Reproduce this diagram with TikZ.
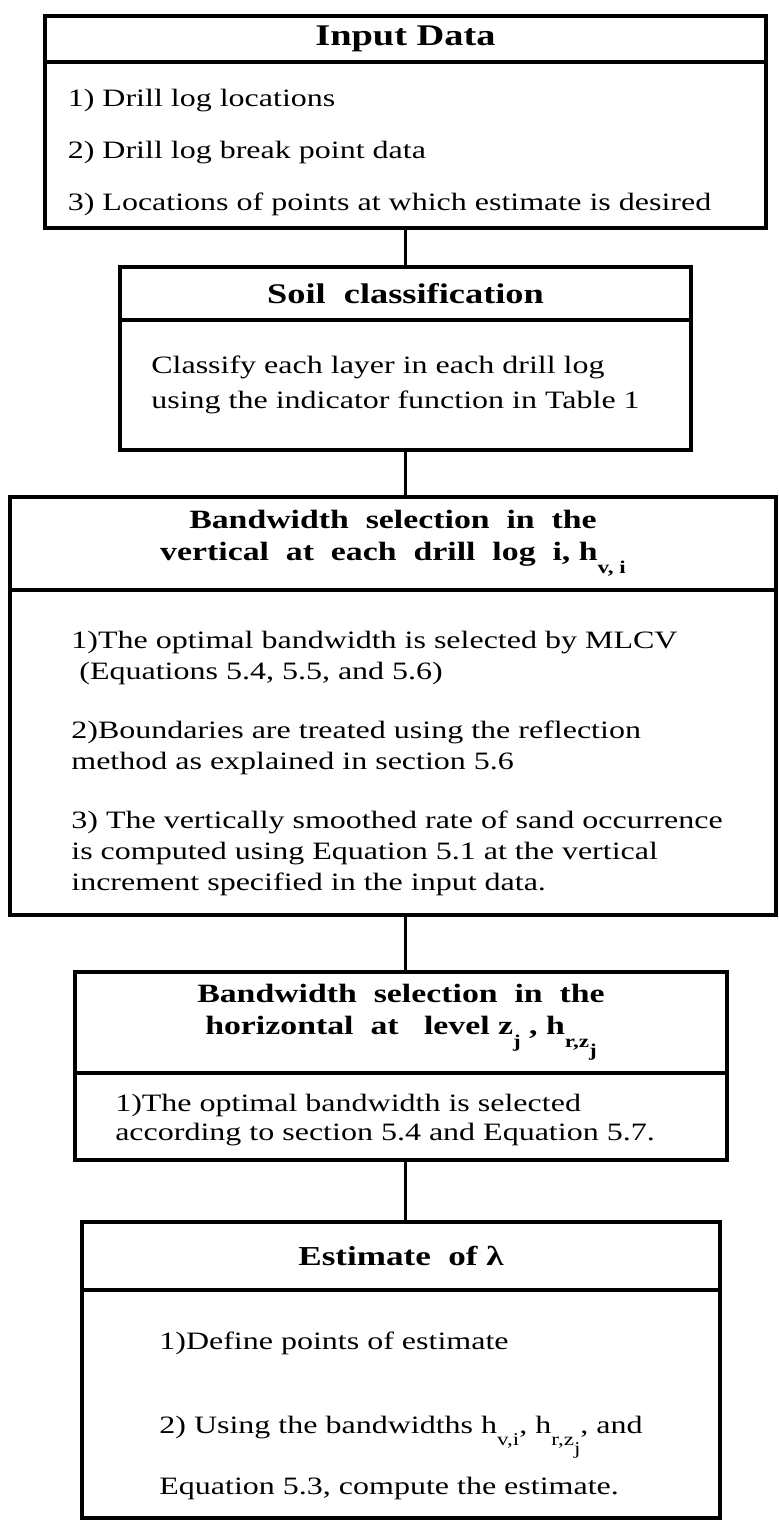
\documentclass[tikz,border=0pt]{standalone}
\usepackage{fontspec}
\setmainfont{Liberation Serif}[FakeStretch=1.28]
\usetikzlibrary{positioning}

\newcommand{\lowsub}[1]{\raisebox{-1.1ex}{\small #1}}
\newcommand{\topgap}[1]{\rule{0pt}{#1}}

\begin{document}
\begin{tikzpicture}[
    boxhead/.style={rectangle, draw, line width=1.6pt, inner sep=0pt, outer sep=0pt, align=center, font=\bfseries\fontsize{13.2}{16}\selectfont},
    boxbody/.style={rectangle, draw, line width=1.6pt, inner sep=0pt, outer sep=0pt, font=\fontsize{12.5}{14.5}\selectfont},
    link/.style={line width=1.5pt},
    node distance=0pt
]

    \useasboundingbox (0,0) rectangle (389pt,-760pt);

    % Input data
    \node[boxhead, minimum width=360.5pt, minimum height=23pt, anchor=north west, font=\bfseries\fontsize{15}{16}\selectfont] (inputhead) at (22.5pt,-8pt) {Input Data};
    \node[boxbody, below=0pt of inputhead, minimum width=360.5pt, minimum height=83pt] (inputbody) {
        \begin{tabular}{@{}l@{\hspace{16pt}}}
        \topgap{18pt}1) Drill log locations\\[11.5pt]
        2) Drill log break point data\\[11.5pt]
        3) Locations of points at which estimate is desired
        \end{tabular}
    };

    % Soil classification
    \node[boxhead, below=19.5pt of inputbody, minimum width=285.5pt, minimum height=26.5pt, font=\bfseries\fontsize{14.2}{16}\selectfont] (soilhead) {Soil\ \ classification};
    \node[boxbody, below=0pt of soilhead, minimum width=285.5pt, minimum height=65pt] (soilbody) {
        \begin{tabular}{@{}l@{\hspace{10pt}}}
        Classify each layer in each drill log\\[3pt]
        using the indicator function in Table 1
        \end{tabular}
    };

    % Bandwidth in the vertical
    \node[boxhead, below=23.5pt of soilbody, xshift=-6.25pt, minimum width=383pt, minimum height=46.5pt] (verthead) {
        Bandwidth\ \ selection\ \ in\ \ the\\
        vertical\ \ at\ \ each\ \ drill\ \ log\ \ i,\ h\lowsub{v, i}
    };
    \node[boxbody, below=0pt of verthead, minimum width=383pt, minimum height=162.5pt, font=\fontsize{12.5}{15.5}\selectfont] (vertbody) {
        \begin{tabular}{@{\hspace{4pt}}l@{}}
        \topgap{22pt}1)The optimal bandwidth is selected by MLCV\\
        \ (Equations 5.4, 5.5, and 5.6)\\[14pt]
        2)Boundaries are treated using the reflection\\
        method as explained in section 5.6\\[14pt]
        3) The vertically smoothed rate of sand occurrence\\
        is computed using Equation 5.1 at the vertical\\
        increment specified in the input data.
        \end{tabular}
    };

    % Bandwidth in the horizontal
    \node[boxhead, below=28.5pt of vertbody, xshift=4pt, minimum width=326pt, minimum height=50.5pt] (horhead) {
        Bandwidth\ \ selection\ \ in\ \ the\\
        horizontal\ \ at\ \ \ level z\lowsub{j} , h\lowsub{r,z\lowsub{j}}
    };
    \node[boxbody, below=0pt of horhead, minimum width=326pt, minimum height=43.5pt] (horbody) {
        \begin{tabular}{@{}l@{\hspace{16pt}}}
        \topgap{14pt}1)The optimal bandwidth is selected\\
        according to section 5.4 and Equation 5.7.
        \end{tabular}
    };

    % Estimate
    \node[boxhead, below=31pt of horbody, minimum width=319pt, minimum height=34pt, font=\bfseries\fontsize{13.7}{16}\selectfont] (esthead) {Estimate\ \ of λ};
    \node[boxbody, below=0pt of esthead, minimum width=319pt, minimum height=114pt] (estbody) {
        \begin{tabular}{@{}l@{}}
        \topgap{22pt}1)Define points of estimate\\[27.5pt]
        2) Using the bandwidths h\lowsub{v,i}, h\lowsub{r,z\lowsub{j}}, and\\[16pt]
        Equation 5.3, compute the estimate.
        \end{tabular}
    };

    % Links between the boxes
    \draw[link] (inputbody.south) -- (soilhead.north -| inputbody.south);
    \draw[link] (soilbody.south -| inputbody.south) -- (verthead.north -| inputbody.south);
    \draw[link] (vertbody.south -| inputbody.south) -- (horhead.north -| inputbody.south);
    \draw[link] (horbody.south -| inputbody.south) -- (esthead.north -| inputbody.south);

\end{tikzpicture}
\end{document}
